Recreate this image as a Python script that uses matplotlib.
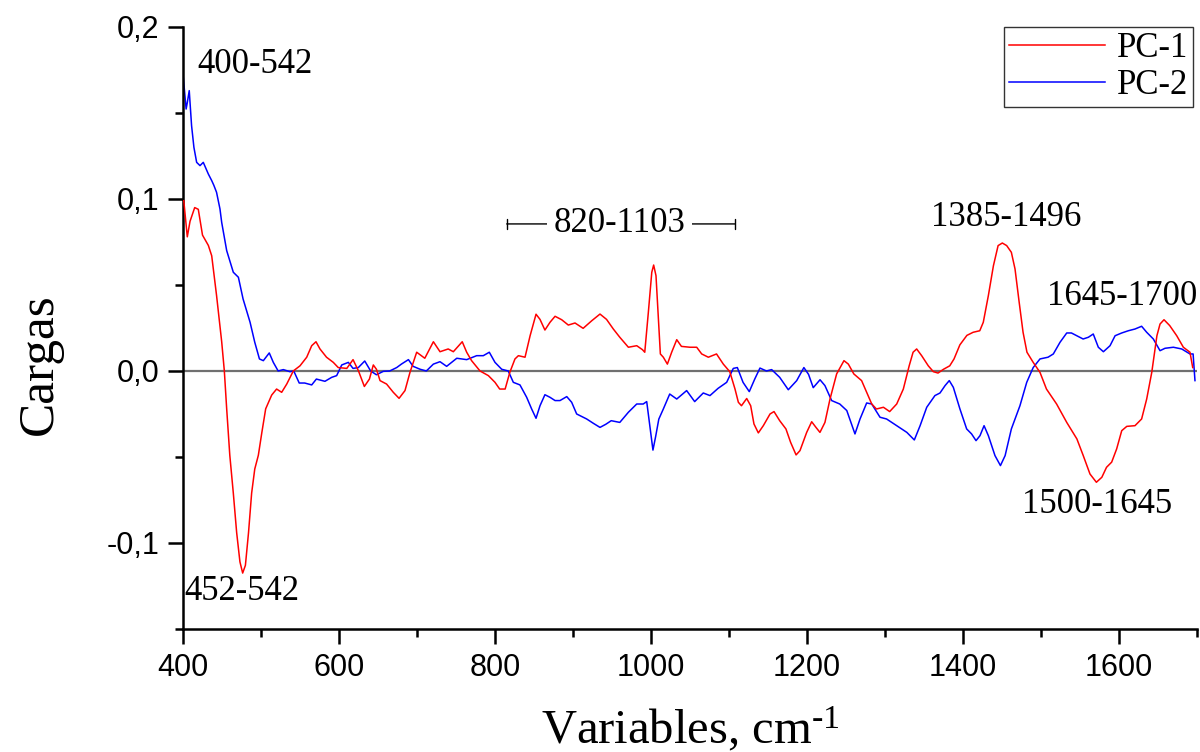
import matplotlib
matplotlib.use("Agg")
import matplotlib.pyplot as plt
from matplotlib.ticker import MultipleLocator, FuncFormatter

# PC loadings (x in cm-1)
pc1_x = [401, 405.5, 409, 415, 419.6, 425, 432.5, 436.8, 443, 449.6, 453, 456, 460, 464.5, 468.8,
         473, 476.5, 480, 484, 488, 492, 496.6, 501, 506, 513.7, 520, 526.5, 533, 541.4, 550,
         558.6, 565, 570.5, 575.6, 584, 592.7, 599, 610, 618, 625, 632.5, 639, 644, 648, 652.6,
         661, 669.6, 677, 684.6, 691, 699.6, 710, 721, 729.5, 740, 746.6, 758, 763.7, 770, 780.8,
         791.5, 800, 806, 813, 819, 825.6, 830, 838.5, 845, 852.6, 857.7, 864, 870.5, 877, 885.5,
         894, 902.6, 913, 924, 934.6, 943, 951.7, 960, 971, 981.7, 989, 992, 996.6, 1001, 1003.4,
         1006.4, 1009, 1012, 1015.8, 1021, 1026.5, 1033, 1039, 1050, 1058.6, 1065, 1073.5, 1084,
         1092.7, 1101, 1107.7, 1112, 1116, 1122.7, 1127.8, 1132, 1137.6, 1144, 1152.6, 1157.7,
         1165, 1173, 1179, 1186, 1191, 1199.6, 1206, 1211.5, 1216.6, 1223, 1229.5, 1238, 1247.4,
         1253, 1260, 1270, 1276.5, 1283, 1289, 1298, 1306, 1315, 1323.5, 1331, 1336, 1340.6,
         1347, 1355.5, 1362, 1368, 1375, 1383, 1388.5, 1396, 1405, 1413, 1421.5, 1426, 1432.5,
         1439, 1445, 1450.4, 1456, 1462, 1466.7, 1472, 1477, 1482, 1490, 1498.7, 1507, 1520,
         1533, 1546, 1554, 1562.8, 1571, 1578, 1584, 1590.6, 1597, 1603.5, 1610, 1620.5, 1629,
         1635.5, 1642, 1648.6, 1652.6, 1657.7, 1665, 1674, 1682.5, 1691, 1694.5]
pc1_y = [0.099, 0.078, 0.087, 0.095, 0.094, 0.079, 0.073, 0.067, 0.044, 0.017, 0.0, -0.022, -0.049,
         -0.071, -0.094, -0.111, -0.1175, -0.113, -0.094, -0.071, -0.057, -0.049, -0.036, -0.022,
         -0.014, -0.0105, -0.0124, -0.0076, 0.0, 0.003, 0.008, 0.0147, 0.017, 0.0128, 0.008, 0.005,
         0.002, 0.0015, 0.0066, 0.0, -0.009, -0.0047, 0.0035, 0.001, -0.0056, -0.0076, -0.0124,
         -0.0159, -0.0114, -0.0008, 0.0109, 0.0074, 0.017, 0.0112, 0.0128, 0.0112, 0.017, 0.0109,
         0.006, 0.0, -0.0027, -0.0066, -0.0105, -0.0105, -0.0008, 0.007, 0.0089, 0.008, 0.0205,
         0.033, 0.030, 0.0238, 0.0283, 0.0318, 0.0298, 0.0267, 0.0279, 0.0248, 0.0292, 0.0331,
         0.030, 0.0244, 0.0196, 0.0138, 0.0147, 0.0124, 0.0109, 0.0341, 0.0574, 0.0616, 0.0554,
         0.0341, 0.0099, 0.008, 0.004, 0.0109, 0.0182, 0.0143, 0.0138, 0.0138, 0.0099, 0.008,
         0.0099, 0.004, -0.0004, -0.0105, -0.0182, -0.0202, -0.016, -0.0202, -0.0308, -0.036,
         -0.0318, -0.025, -0.0236, -0.0289, -0.0337, -0.0415, -0.0488, -0.0463, -0.0357, -0.0295,
         -0.0328, -0.0357, -0.0299, -0.0163, -0.0017, 0.006, 0.004, -0.0017, -0.0056, -0.0124,
         -0.0192, -0.0221, -0.0211, -0.0236, -0.0192, -0.0105, 0.003, 0.0109, 0.0128, 0.0089,
         0.003, -0.0004, -0.0012, 0.001, 0.003, 0.007, 0.0152, 0.0207, 0.0225, 0.0234, 0.0283,
         0.0438, 0.0612, 0.0729, 0.0744, 0.0729, 0.069, 0.0593, 0.040, 0.0225, 0.0109, 0.005,
         -0.0008, -0.0105, -0.0192, -0.0299, -0.0395, -0.049, -0.0599, -0.0647, -0.0618, -0.056,
         -0.053, -0.0453, -0.0347, -0.0322, -0.0318, -0.0279, -0.0163, -0.0008, 0.0205, 0.0273,
         0.0298, 0.0264, 0.0205, 0.0138, 0.0109, 0.002]

pc2_x = [400.4, 404, 405.5, 408, 411, 414, 417.5, 421.8, 426, 432.5, 436.8, 439.5, 443, 447.4,
         449.6, 456, 464.5, 471, 477, 486, 492, 498, 503, 510.6, 515.8, 522, 528.6, 537, 542, 549,
         556, 565, 571, 582, 590.6, 597, 603.5, 612, 618, 624.8, 633, 640.6, 648, 656.8, 665, 674,
         680, 689, 695, 704, 712, 721, 729.5, 738, 751, 763.7, 776.5, 785, 792.7, 800, 808.6, 817,
         823.5, 832, 840.6, 847, 852.6, 857.7, 864, 870.5, 877, 883.3, 892, 898.3, 904.7, 917.5,
         926, 934.6, 942, 949, 960, 971, 981.7, 990, 994.5, 998, 1002.5, 1006, 1010, 1015.8, 1024,
         1033, 1045.7, 1056, 1067, 1075.6, 1086, 1097, 1105.5, 1110.7, 1118, 1126, 1133, 1139.7,
         1148, 1154.7, 1165, 1176, 1186.8, 1196, 1202, 1208, 1216.7, 1223, 1231.6, 1242, 1251,
         1261.5, 1268, 1276.5, 1283, 1293.6, 1302, 1315, 1328, 1337.6, 1345, 1353.5, 1364, 1370.5,
         1377, 1382.4, 1387.6, 1396, 1404.7, 1411, 1416.7, 1421.8, 1427, 1432.5, 1441, 1448, 1454,
         1462, 1473, 1481.7, 1490, 1498.7, 1509, 1515.8, 1524.4, 1533, 1539, 1545.8, 1554, 1560.7,
         1567, 1573.5, 1580, 1588.5, 1595, 1603.5, 1612, 1620.5, 1629, 1635.5, 1644, 1652.6, 1659,
         1669.7, 1680.4, 1691, 1695, 1697.4]
pc2_y = [0.1707, 0.1523, 0.156, 0.163, 0.1426, 0.13, 0.1213, 0.1194, 0.1213, 0.1145, 0.1107,
         0.108, 0.1039, 0.0942, 0.0864, 0.070, 0.0574, 0.0545, 0.0419, 0.0283, 0.0167, 0.007, 0.006,
         0.0105, 0.005, 0.0, 0.0008, -0.0004, 0.0, -0.007, -0.007, -0.0081, -0.0047, -0.006,
         -0.0037, -0.0027, 0.0035, 0.005, 0.0015, 0.002, 0.0058, 0.0, -0.0022, -0.0002, 0.0, 0.002,
         0.004, 0.0066, 0.0027, 0.001, 0.0, 0.004, 0.0054, 0.0027, 0.0074, 0.0066, 0.0089, 0.0089,
         0.0109, 0.005, 0.001, 0.0, -0.0066, -0.0081, -0.0153, -0.0221, -0.0275, -0.0202, -0.0138,
         -0.0153, -0.0172, -0.0172, -0.0149, -0.0182, -0.025, -0.0279, -0.0304, -0.0328, -0.031,
         -0.0289, -0.0299, -0.024, -0.0192, -0.0192, -0.0178, -0.030, -0.046, -0.038, -0.028,
         -0.0221, -0.0134, -0.0163, -0.0114, -0.0178, -0.0128, -0.0143, -0.0101, -0.0066, 0.0015,
         0.002, -0.0066, -0.012, -0.0047, 0.0017, 0.0, 0.0008, -0.0037, -0.0109, -0.0056, 0.002,
         -0.002, -0.0097, -0.0051, -0.0085, -0.0172, -0.0192, -0.023, -0.0366, -0.0279, -0.0186,
         -0.0192, -0.0269, -0.0279, -0.0318, -0.0357, -0.0401, -0.0318, -0.0211, -0.0143, -0.0128,
         -0.0085, -0.0056, -0.0095, -0.022, -0.0337, -0.0366, -0.0405, -0.0376, -0.0318, -0.0376,
         -0.0492, -0.055, -0.0492, -0.0337, -0.0202, -0.0066, 0.002, 0.007, 0.008, 0.0099, 0.0167,
         0.0221, 0.0221, 0.0205, 0.0186, 0.0196, 0.0215, 0.0138, 0.0112, 0.0147, 0.0205, 0.0221,
         0.0234, 0.0244, 0.026, 0.0225, 0.0186, 0.0118, 0.0132, 0.0138, 0.0128, 0.0099, 0.0099,
         -0.0056]

# band labels: (text, x, y)
band_labels = [("400-542", 492, 0.178), ("452-542", 476, -0.128), ("1385-1496", 1456, 0.0895),
               ("1645-1700", 1604, 0.0435), ("1500-1645", 1572, -0.0775)]
bracket_text = "820-1103"
bracket_range = [815, 1108]
bracket_y = 0.0855

serif = "Liberation Serif"
sans = "Liberation Sans"
plt.rcParams["mathtext.fontset"] = "custom"
plt.rcParams["mathtext.rm"] = serif
plt.rcParams["mathtext.it"] = serif

fig = plt.figure(figsize=(12, 7.52), dpi=100)
ax = fig.add_axes([0.1525, 0.1636, 0.845, 0.8005])

ax.axhline(0, color="#707070", lw=1.6, zorder=1)
ax.plot(pc1_x, pc1_y, color="#ff0000", lw=1.1, label="PC-1", zorder=3)
ax.plot(pc2_x, pc2_y, color="#0000ff", lw=1.1, label="PC-2", zorder=2)

ax.set_xlim(400, 1700)
ax.set_ylim(-0.15, 0.2)
ax.xaxis.set_major_locator(MultipleLocator(200))
ax.xaxis.set_minor_locator(MultipleLocator(100))
ax.yaxis.set_major_locator(MultipleLocator(0.1))
ax.yaxis.set_minor_locator(MultipleLocator(0.05))
ax.yaxis.set_major_formatter(FuncFormatter(lambda v, p: f"{v:.1f}".replace(".", ",")))

for s in ("top", "right"):
    ax.spines[s].set_visible(False)
for s in ("left", "bottom"):
    ax.spines[s].set_linewidth(1.8)
ax.tick_params(which="major", length=11, width=1.8, labelsize=22, pad=6)
ax.tick_params(which="minor", length=6, width=1.8)
for lab in ax.get_xticklabels() + ax.get_yticklabels():
    lab.set_fontfamily(sans)

ax.set_xlabel(r"Variables, cm$^{\text{-1}}$", fontsize=35, family=serif)
ax.xaxis.set_label_coords(0.5, -0.126)
ax.set_ylabel("Cargas", fontsize=37, family=serif)
ax.yaxis.set_label_coords(-0.118, 0.44)

for txt, x, y in band_labels:
    ax.text(x, y, txt, fontsize=25, family=serif, ha="center", va="center", zorder=4)

ax.annotate("", xy=(bracket_range[0], bracket_y), xytext=(bracket_range[1], bracket_y),
            arrowprops=dict(arrowstyle="|-|,widthA=0.35,widthB=0.35", lw=1, color="black",
                            shrinkA=0, shrinkB=0))
ax.text(sum(bracket_range) / 2 - 2, bracket_y, bracket_text, fontsize=25, family=serif,
        ha="center", va="center", zorder=4,
        bbox=dict(facecolor="white", edgecolor="none", pad=5))

leg = ax.legend(loc="upper right", bbox_to_anchor=(0.9965, 1.0), prop={"family": serif, "size": 25},
                fancybox=False, framealpha=1, edgecolor="#333333", handlelength=2.75,
                borderpad=0.15, labelspacing=0.1, handletextpad=0.35, borderaxespad=0)
leg.get_frame().set_linewidth(1.0)

fig.savefig("out.png", dpi=100)
